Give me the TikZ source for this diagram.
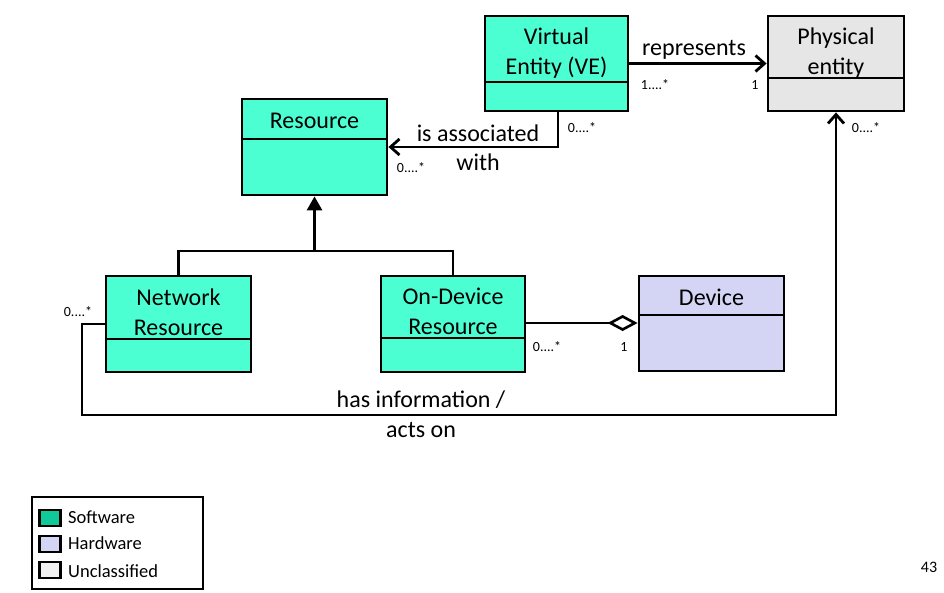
\documentclass[tikz,border=0pt]{standalone}
\usepackage{fontspec}
\setmainfont{Carlito}
\usetikzlibrary{arrows.meta}
\definecolor{swfill}{HTML}{4BFFD3}
\definecolor{hwfill}{HTML}{D4D4F4}
\definecolor{ucfill}{HTML}{E6E6E6}
\definecolor{swleg}{HTML}{10C898}
\definecolor{ucleg}{HTML}{F0F0F0}
\tikzset{
  umlbox/.style={draw, line width=2.8pt, rectangle, inner sep=0pt},
  title/.style={font=\fontsize{24}{30}\selectfont, align=center, inner sep=0pt},
  mult/.style={font=\fontsize{14}{16}\selectfont, inner sep=0pt},
  lbl/.style={font=\fontsize{24}{30}\selectfont, inner sep=0pt},
  conn/.style={line width=2.8pt},
  openarr/.style={conn, -{Straight Barb[length=9pt,width=16pt,line width=2.8pt]}},
  genarr/.style={conn, -{Triangle[length=14pt,width=15pt]}},
  aggarr/.style={conn, -{Diamond[open,length=30pt,width=16pt,line width=2.6pt,fill=white]}},
  swatch/.style={draw, line width=2.4pt, minimum width=21pt, minimum height=16pt, inner sep=0pt},
  legtext/.style={font=\fontsize{18.5}{20}\selectfont, anchor=west, inner sep=0pt}
}
\begin{document}
\begin{tikzpicture}[x=1pt,y=-1pt]
\useasboundingbox (0,0) rectangle (944,593);
% boxes
\node[umlbox, fill=swfill, minimum width=143pt, minimum height=95pt] (ve) at (556.5,63.5) {};
\draw[line width=2.8pt] (ve.west |- 0,82) -- (ve.east |- 0,82);
\node[title] (vet) at (556.5,53) {Virtual\\Entity (VE)};

\node[umlbox, fill=ucfill, minimum width=136pt, minimum height=95pt] (pe) at (836,63.5) {};
\draw[line width=2.8pt] (pe.west |- 0,78) -- (pe.east |- 0,78);
\node[title] (pet) at (836,53) {Physical\\entity};

\node[umlbox, fill=swfill, minimum width=145pt, minimum height=96pt] (res) at (314.5,147) {};
\draw[line width=2.8pt] (res.west |- 0,139) -- (res.east |- 0,139);
\node[title] (rest) at (314.5,121) {Resource};

\node[umlbox, fill=swfill, minimum width=145pt, minimum height=96pt] (nr) at (178.5,324) {};
\draw[line width=2.8pt] (nr.west |- 0,339) -- (nr.east |- 0,339);
\node[title] (nrt) at (178.5,312) {Network\\Resource};

\node[umlbox, fill=swfill, minimum width=144pt, minimum height=96pt] (od) at (453,324) {};
\draw[line width=2.8pt] (od.west |- 0,338) -- (od.east |- 0,338);
\node[title] (odt) at (453,311.5) {On-Device\\Resource};

\node[umlbox, fill=hwfill, minimum width=145pt, minimum height=95pt] (dev) at (711.5,323.5) {};
\draw[line width=2.8pt] (dev.west |- 0,315) -- (dev.east |- 0,315);
\node[title] (devt) at (711.5,297) {Device};

% represents
\draw[openarr] (ve.east) -- (pe.west);
\node[lbl] (l1) at (694,50) {represents};
\node[mult] (m1) at (655,85) {1....*};
\node[mult] (m2) at (755,85) {1};

% is associated with
\coordinate (ac) at (558,147);
\draw[openarr] (ve.south -| ac) -- (ac) -- (res.east |- ac);
\node[lbl] (l2) at (478,133) {is associated};
\node[lbl] (l3) at (478,162) {with};
\node[mult] (m3) at (582,128) {0....*};
\node[mult] (m4) at (411,168) {0....*};

% generalization
\coordinate (g) at (314.5,251);
\draw[conn] (nr.north) -- (nr.north |- g) -- (od.north |- g) -- (od.north);
\draw[genarr] (g) -- (res.south);

% aggregation
\draw[aggarr] (od.east |- 0,323) -- (dev.west |- 0,323);
\node[mult] (m5) at (547,347) {0....*};
\node[mult] (m6) at (624,347) {1};

% has information / acts on
\coordinate (hb) at (82,415);
\draw[openarr] (nr.west) -- (nr.west -| hb) -- (hb) -- (hb -| pe.south) -- (pe.south);
\node[lbl] (l4) at (421,400) {has information /};
\node[lbl] (l5) at (421,430) {acts on};
\node[mult] (m7) at (78,312) {0....*};
\node[mult] (m8) at (866,128) {0....*};

% legend
\node[draw, line width=2pt, minimum width=171pt, minimum height=92pt, inner sep=0pt] (leg) at (117.5,543) {};
\node[swatch, fill=swleg] (s1) at (50,518) {};
\node[swatch, fill=hwfill] (s2) at (50,544) {};
\node[swatch, fill=ucleg] (s3) at (50,570) {};
\node[legtext] (t1) at (68,517) {Software};
\node[legtext] (t2) at (68,543) {Hardware};
\node[legtext] (t3) at (68,571) {Unclassified};

\node[font=\fontsize{16}{18}\selectfont, inner sep=0pt] (pg) at (929,567) {43};
\end{tikzpicture}
\end{document}
